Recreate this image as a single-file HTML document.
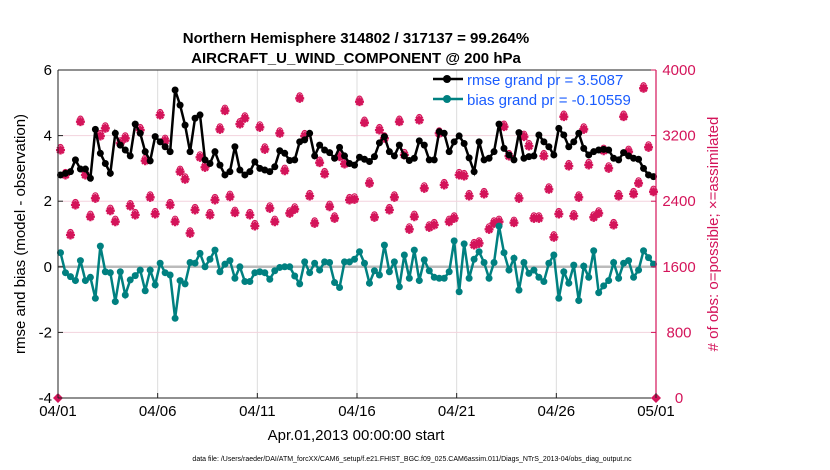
<!DOCTYPE html>
<html><head><meta charset="utf-8"><style>
body{margin:0;background:#fff;}
svg{display:block;font-family:"Liberation Sans",Arial,sans-serif;}
</style></head><body>
<svg id="chart" width="830" height="470" viewBox="0 0 830 470" xmlns="http://www.w3.org/2000/svg">
<rect width="830" height="470" fill="#fff"/>
<text x="356" y="43" text-anchor="middle" font-size="15" font-weight="bold">Northern Hemisphere 314802 / 317137 = 99.264%</text>
<text x="356" y="63" text-anchor="middle" font-size="15" font-weight="bold">AIRCRAFT_U_WIND_COMPONENT @ 200 hPa</text>
<g id="grid"></g>
<g id="marks"></g>
<g id="axes"></g>
<text x="356" y="440" text-anchor="middle" font-size="15">Apr.01,2013 00:00:00 start</text>
<text transform="translate(25,234) rotate(-90)" text-anchor="middle" font-size="15">rmse and bias (model - observation)</text>
<text transform="translate(718,234) rotate(-90)" text-anchor="middle" font-size="15" fill="#d4145a">#  of obs: o=possible; ×=assimilated</text>
<g>
<line x1="433" y1="79" x2="463" y2="79" stroke="#000" stroke-width="2.5"/>
<circle cx="447" cy="79" r="4" fill="#000"/>
<text x="467" y="85" font-size="15" fill="#1a5cff">rmse grand pr = 3.5087</text>
<line x1="433" y1="99" x2="463" y2="99" stroke="#008080" stroke-width="2.5"/>
<circle cx="447" cy="99" r="4" fill="#008080"/>
<text x="467" y="105" font-size="15" fill="#1a5cff">bias grand pr = -0.10559</text>
</g>
<text x="412" y="461" text-anchor="middle" font-size="7">data file: /Users/raeder/DAI/ATM_forcXX/CAM6_setup/f.e21.FHIST_BGC.f09_025.CAM6assim.011/Diags_NTrS_2013-04/obs_diag_output.nc</text>
</svg>
<script>
const rmse=[2.80,2.85,2.90,3.26,2.98,2.98,2.70,4.19,3.46,3.15,2.85,4.07,3.71,3.56,3.38,4.35,4.07,3.51,3.23,3.97,3.81,3.66,3.51,5.39,4.93,4.32,3.51,4.53,4.63,3.26,3.15,3.51,3.10,2.80,2.90,3.66,2.95,2.80,2.90,3.20,3.0,
2.95,2.90,3.05,3.54,3.46,3.24,3.26,3.81,3.87,4.07,3.38,3.71,3.56,3.48,3.31,3.64,3.38,3.15,3.10,3.34,3.28,3.21,3.36,3.78,3.97,3.51,3.38,3.71,3.38,3.24,3.31,3.84,3.71,3.26,3.26,4.12,4.07,3.51,3.81,3.99,3.76,
3.32,2.90,3.81,3.26,3.31,3.51,4.35,3.61,3.41,3.26,4.09,3.31,3.36,3.38,4.02,3.81,3.66,3.41,4.22,4.02,3.66,3.81,4.07,3.61,3.41,3.51,3.56,3.58,3.56,3.31,3.26,3.48,3.38,3.31,3.28,3.00,2.80,2.75];
const bias=[0.43,-0.18,-0.30,-0.42,0.19,-0.42,-0.32,-0.96,0.63,-0.15,-0.18,-1.06,-0.15,-0.86,-0.40,-0.27,-0.10,-0.73,-0.10,-0.55,0.11,-0.18,-0.25,-1.57,-0.42,-0.52,0.13,0.11,0.41,0.00,0.23,0.51,-0.15,0.08,0.19,-0.35,0.00,-0.45,-0.45,-0.18,-0.15,
-0.18,-0.38,-0.12,-0.02,0,0,-0.28,-0.52,0.15,-0.18,0.11,-0.10,0.15,0.13,-0.48,-0.63,0.15,0.15,0.23,0.46,0.11,-0.50,-0.12,-0.25,0.66,-0.15,0.15,-0.61,0.36,-0.35,0.51,-0.42,0.21,-0.12,-0.32,-0.35,-0.35,-0.15,0.79,-0.76,0.70,
-0.35,0.23,0.46,0.13,-0.35,0.13,1.24,0.43,-0.10,0.26,-0.71,0.13,-0.20,-0.10,-0.32,-0.45,0.11,0.36,-0.96,-0.15,-0.50,0.05,-1.03,0.02,-0.32,0.49,-0.79,-0.58,-0.42,0.13,-0.35,0.11,0.19,-0.32,-0.10,0.49,0.28,0.08];
const obsCount=[3024,2720,1988,2354,3370,2720,2211,2435,3195,3289,2284,2150,3106,3167,2341,2232,3268,2894,2447,2244,3451,3138,2354,2150,2760,2667,2008,2293,2935,2813,2232,2415,3276,3504,2455,2260,3341,3411,2232,2098,3301,
3032,2313,2150,3228,2772,2252,2301,3654,3195,2463,2130,2870,2732,2333,2191,2943,2854,2415,2423,3614,3358,2618,2203,3268,3167,2293,2447,3370,2964,2057,2211,3390,2557,2081,2110,3228,2598,2150,2191,2720,
2707,2463,1866,1886,2488,2057,2130,2150,3309,2951,2138,2435,3187,3073,2191,2191,2951,2545,1960,2244,3431,2829,2219,2447,3276,2842,2203,2252,3016,2801,2110,2463,3431,3004,2488,2618,3777,3057,2516];
const leftTicks=[-4,-2,0,2,4,6];
const rightTicks=[0,800,1600,2400,3200,4000];
const xTickLabels=["04/01","04/06","04/11","04/16","04/21","04/26","05/01"];
const xTickDays=[0,5,10,15,20,25,30];
const NS="http://www.w3.org/2000/svg";
const X0=58,X1=656,YT=70,YB=398;
const xDay=d=>X0+(X1-X0)*d/30;
const xIdx=i=>xDay((i+0.5)/4);
const yL=v=>YB-(v+4)/10*(YB-YT);
const yR=v=>YB-v/4000*(YB-YT);
function mk(tag,attrs,parent){const e=document.createElementNS(NS,tag);for(const k in attrs)e.setAttribute(k,attrs[k]);parent.appendChild(e);return e;}
const grid=document.getElementById('grid'),marks=document.getElementById('marks'),axes=document.getElementById('axes');
mk('rect',{x:X0,y:YT,width:X1-X0,height:YB-YT,fill:'#fff'},grid);
xTickDays.forEach(d=>{const l=mk('line',{x1:xDay(d),x2:xDay(d),y1:YT,y2:YB,stroke:'#dcdcdc','stroke-width':1},grid);

});
rightTicks.forEach(v=>{const l=mk('line',{x1:X0,x2:X1,y1:yR(v),y2:yR(v),stroke:'#f3d2dd','stroke-width':1},grid);

});
const zl=mk('line',{x1:X0,x2:X1,y1:yL(0),y2:yL(0),stroke:'#bbb','stroke-width':2.5},grid);


obsCount.forEach((c,i)=>{const x=xIdx(i),y=yR(c);
const g=mk('g',{},marks);


mk('path',{d:`M${x-4.5} ${y}L${x+4.5} ${y}M${x} ${y-4.5}L${x} ${y+4.5}M${x-3.2} ${y-3.2}L${x+3.2} ${y+3.2}M${x-3.2} ${y+3.2}L${x+3.2} ${y-3.2}`,stroke:'#d4145a','stroke-width':2.4},g);
mk('circle',{cx:x,cy:y,r:3.5,fill:'#d4145a'},g);
mk('circle',{cx:x,cy:y-3,r:2.5,fill:'none',stroke:'#d4145a','stroke-width':1.2},g);});
[X0,X1].forEach(x=>{const c=mk('path',{d:`M${x-5} ${YB}L${x} ${YB-5}L${x+5} ${YB}L${x} ${YB+5}Z`,fill:'#d4145a'},marks);

});
function series(arr,color,name){
const p=mk('polyline',{points:arr.map((v,i)=>xIdx(i)+','+yL(v)).join(' '),fill:'none',stroke:color,'stroke-width':2.5},marks);


arr.forEach((v,i)=>{const c=mk('circle',{cx:xIdx(i),cy:yL(v),r:3.5,fill:color},marks);

});}
series(rmse,'#000','rmse');
series(bias,'#008080','bias');
mk('line',{x1:X0,x2:X1,y1:YT,y2:YT,stroke:'#222','stroke-width':1},axes);
mk('line',{x1:X0,x2:X1,y1:YB,y2:YB,stroke:'#222','stroke-width':1},axes);
mk('line',{x1:X0,x2:X0,y1:YT,y2:YB,stroke:'#222','stroke-width':1},axes);
mk('line',{x1:X1,x2:X1,y1:YT,y2:YB,stroke:'#d4145a','stroke-width':1.2},axes);
leftTicks.forEach(v=>{mk('line',{x1:X0,x2:X0+5,y1:yL(v),y2:yL(v),stroke:'#222'},axes);
const t=mk('text',{x:X0-6,y:yL(v)+5,'text-anchor':'end','font-size':15},axes);t.textContent=v;

});
rightTicks.forEach(v=>{mk('line',{x1:X1-5,x2:X1,y1:yR(v),y2:yR(v),stroke:'#d4145a'},axes);
const t=mk('text',{x:X1+23,y:yR(v)+5,'text-anchor':'middle','font-size':15,fill:'#d4145a'},axes);t.textContent=v;

});
xTickDays.forEach((d,i)=>{mk('line',{x1:xDay(d),x2:xDay(d),y1:YB-5,y2:YB,stroke:'#222'},axes);
const t=mk('text',{x:xDay(d),y:YB+18,'text-anchor':'middle','font-size':15},axes);t.textContent=xTickLabels[i];

});
</script>
</body></html>
